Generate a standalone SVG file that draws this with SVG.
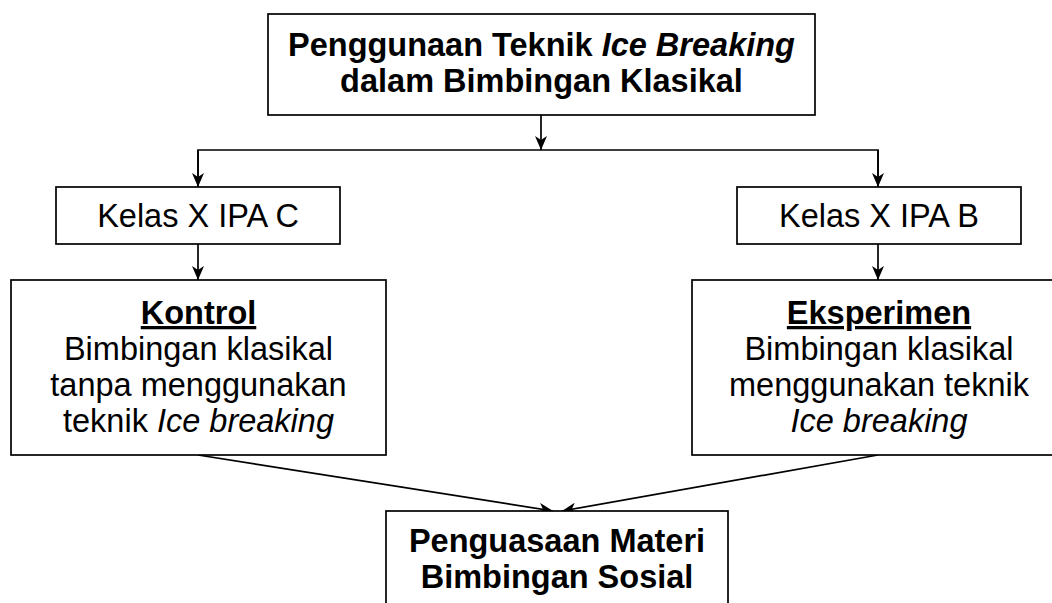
<svg xmlns="http://www.w3.org/2000/svg" width="1052" height="603" viewBox="0 0 1052 603">
<style>
.box{fill:#fff;stroke:#000;stroke-width:1.7}
.t{font-family:"Liberation Sans",Arial,sans-serif;font-size:32.5px;fill:#000;text-anchor:middle}
.b{font-weight:bold}
.i{font-style:italic}
.c{fill:none;stroke:#000;stroke-width:1.7}
</style>
<defs>
<marker id="ah" viewBox="0 0 14 12" refX="14" refY="6" markerWidth="14" markerHeight="12" markerUnits="userSpaceOnUse" orient="auto">
<path d="M0,0 L14,6 L0,12 L4,6 z" fill="#000"/>
</marker>
</defs>
<rect width="1052" height="603" fill="#fff"/>
<g id="connectors">
<line class="c" x1="541" y1="115" x2="541" y2="150" marker-end="url(#ah)"/>
<polyline class="c" points="198,187 198,150 878,150 878,187"/>
<line class="c" x1="198" y1="150" x2="198" y2="187" marker-end="url(#ah)"/>
<line class="c" x1="878" y1="150" x2="878" y2="187" marker-end="url(#ah)"/>
<line class="c" x1="198" y1="244" x2="198" y2="280" marker-end="url(#ah)"/>
<line class="c" x1="878" y1="244" x2="878" y2="280" marker-end="url(#ah)"/>
<line class="c" x1="198" y1="455" x2="553" y2="511" marker-end="url(#ah)"/>
<line class="c" x1="878" y1="455" x2="562" y2="511" marker-end="url(#ah)"/>
</g>
<g id="top">
<rect class="box" x="268" y="14" width="547" height="101"/>
<text class="t b" x="541.5" y="56">Penggunaan Teknik <tspan class="i">Ice Breaking</tspan></text>
<text class="t b" x="541.5" y="92">dalam Bimbingan Klasikal</text>
</g>
<g id="kelasC">
<rect class="box" x="56" y="187" width="284" height="57"/>
<text class="t" x="198" y="227">Kelas X IPA C</text>
</g>
<g id="kelasB">
<rect class="box" x="737" y="187" width="284" height="57"/>
<text class="t" x="879" y="227">Kelas X IPA B</text>
</g>
<g id="kontrol">
<rect class="box" x="11" y="280" width="375" height="175"/>
<text class="t b" x="198.5" y="324" text-decoration="underline">Kontrol</text>
<text class="t" x="198.5" y="360">Bimbingan klasikal</text>
<text class="t" x="198.5" y="396">tanpa menggunakan</text>
<text class="t" x="198.5" y="432">teknik <tspan class="i">Ice breaking</tspan></text>
</g>
<g id="eksperimen">
<rect class="box" x="692" y="280" width="374" height="175"/>
<text class="t b" x="879" y="324" text-decoration="underline">Eksperimen</text>
<text class="t" x="879" y="360">Bimbingan klasikal</text>
<text class="t" x="879" y="396">menggunakan teknik</text>
<text class="t i" x="879" y="432">Ice breaking</text>
</g>
<g id="penguasaan">
<rect class="box" x="386" y="511" width="342" height="110"/>
<text class="t b" x="557" y="552">Penguasaan Materi</text>
<text class="t b" x="557" y="588">Bimbingan Sosial</text>
</g>
</svg>
